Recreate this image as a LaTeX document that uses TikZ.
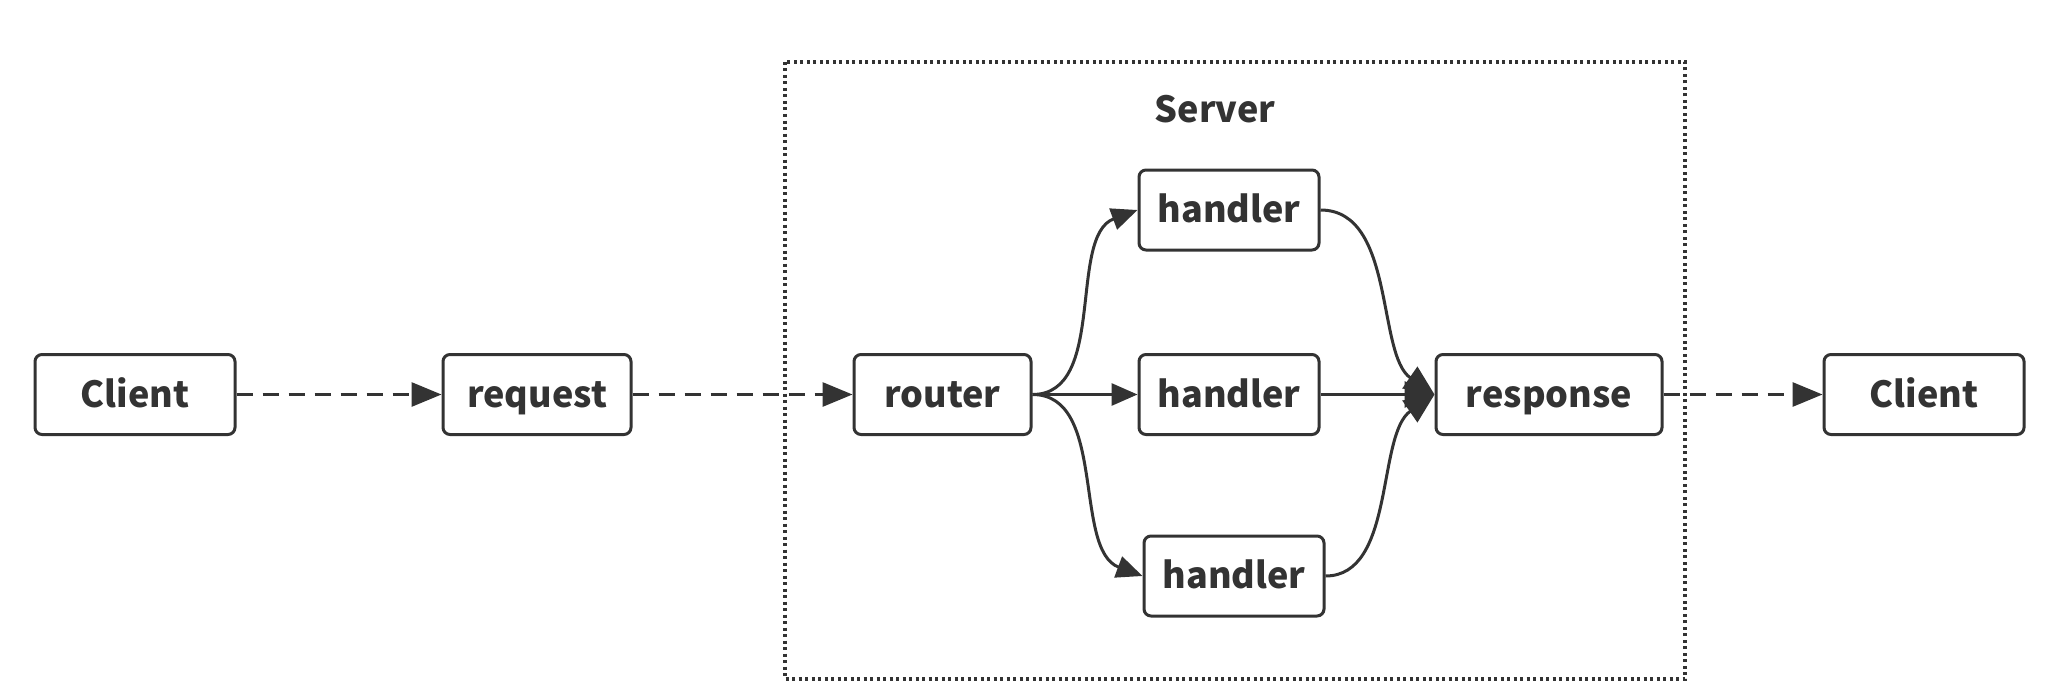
\documentclass[tikz,border=0pt]{standalone}
\usepackage{fontspec}
\newfontfamily\lab{Noto Sans CJK SC}
\usetikzlibrary{arrows.meta}
\definecolor{ink}{HTML}{333333}
\tikzset{
  labfont/.style={text=ink, font=\lab\bfseries\fontsize{18}{22}\selectfont},
  boxnode/.style={draw=ink, line width=1.5pt, rounded corners=3.5pt, fill=white,
    minimum height=40pt, inner sep=0pt, labfont, text height=12.5pt, text depth=-3.5pt},
  solidarrow/.style={draw=ink, line width=1.5pt, -{Triangle[length=13pt,width=11pt]}},
  bigarrow/.style={draw=ink, line width=1.5pt, -{Triangle[length=15pt,width=13pt]}},
  dasharrow/.style={draw=ink, line width=1.5pt, dash pattern=on 8pt off 5pt, -{Triangle[length=15pt,width=12pt]}},
  serverbox/.style={draw=ink, line width=1.6pt, dash pattern=on 1.5pt off 1.75pt}
}
\begin{document}
\begin{tikzpicture}[x=0.5pt,y=-0.5pt]
\useasboundingbox[fill=white] (0,0) rectangle (2048,690);
\draw[serverbox] (785,62) rectangle (1685,679);
\node[labfont] (srv) at (1215,109) {Server};
\node[boxnode, minimum width=100pt] (c1) at (135,394.5) {Client};
\node[boxnode, minimum width=94pt] (req) at (537,394.5) {request};
\node[boxnode, minimum width=88.5pt] (rt) at (942.5,394.5) {router};
\node[boxnode, minimum width=90pt] (h1) at (1229,210) {handler};
\node[boxnode, minimum width=90pt] (h2) at (1229,394.5) {handler};
\node[boxnode, minimum width=90pt] (h3) at (1234,576) {handler};
\node[boxnode, minimum width=113pt] (rs) at (1549,394.5) {response};
\node[boxnode, minimum width=100pt] (c2) at (1924,394.5) {Client};
\draw[dasharrow] (c1.east) -- (req.west);
\draw[dasharrow] (req.east) -- (rt.west);
\draw[dasharrow] (rs.east) -- (c2.west);
\draw[solidarrow] (rt.east) .. controls +(75,0) and +(-70,26) .. (h1.west);
\draw[solidarrow] (rt.east) -- (h2.west);
\draw[solidarrow] (rt.east) .. controls +(75,0) and +(-70,-26) .. (h3.west);
\draw[bigarrow] (h1.east) .. controls +(75,0) and +(-58,-40) .. (rs.west);
\draw[bigarrow] (h2.east) -- (rs.west);
\draw[bigarrow] (h3.east) .. controls +(70,0) and +(-58,40) .. (rs.west);
\end{tikzpicture}
\end{document}
